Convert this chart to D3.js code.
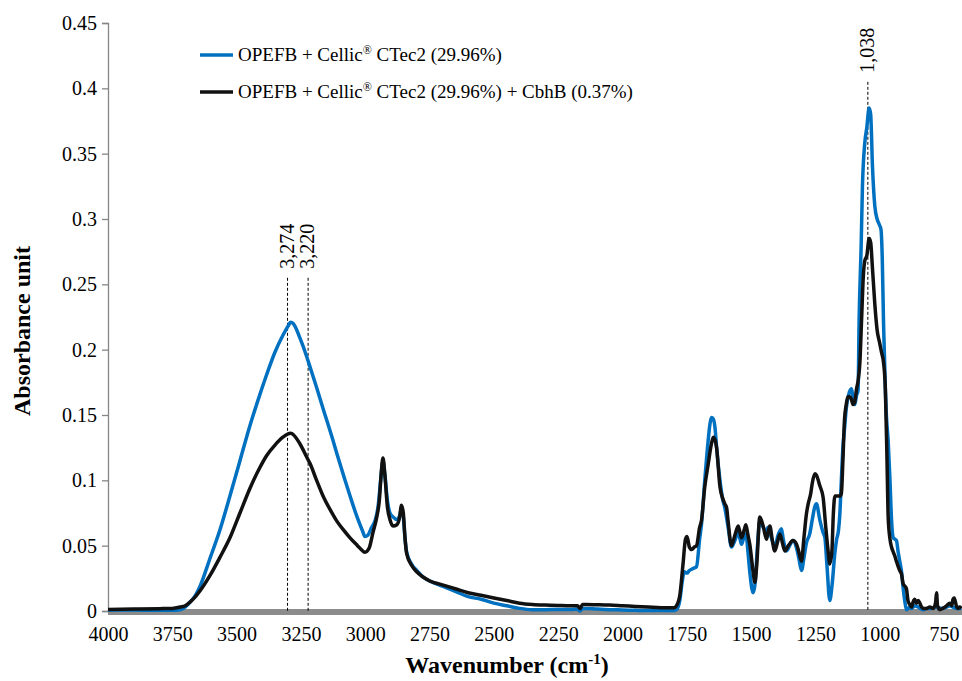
<!DOCTYPE html>
<html>
<head>
<meta charset="utf-8">
<script src="https://cdn.jsdelivr.net/npm/d3@7"></script>
<style>
  body { margin: 0; background: #fff; }
  svg { display: block; }
</style>
</head>
<body>
<div class="canvas"></div>
<script>
// FTIR spectra, absorbance
const blueWn = [4000, 3900, 3800, 3750, 3720, 3700, 3680, 3660, 3640, 3604, 3565, 3526, 3487, 3448, 3409, 3383, 3351, 3320, 3300, 3290, 3280, 3254, 3228, 3215, 3189, 3164, 3126, 3111, 3080, 3059, 3030, 3010, 3001, 2990, 2975, 2962, 2950, 2940, 2931, 2924, 2914, 2904, 2892, 2877, 2866, 2859, 2852, 2845, 2839, 2820, 2800, 2775, 2749, 2700, 2650, 2600, 2550, 2500, 2450, 2400, 2350, 2300, 2250, 2200, 2175, 2165, 2155, 2140, 2100, 2050, 2000, 1950, 1900, 1850, 1800, 1790, 1777, 1768, 1760, 1749, 1740, 1731, 1720, 1712, 1700, 1693, 1680, 1667, 1660, 1654, 1647, 1640, 1634, 1621, 1610, 1602, 1590, 1576, 1563, 1550, 1543, 1537, 1527, 1520, 1512, 1505, 1492, 1485, 1475, 1466, 1453, 1440, 1434, 1427, 1418, 1408, 1395, 1382, 1375, 1362, 1350, 1337, 1323, 1314, 1304, 1295, 1285, 1272, 1262, 1252, 1246, 1233, 1220, 1213, 1205, 1194, 1185, 1174, 1168, 1160, 1155, 1149, 1143, 1136, 1130, 1120, 1110, 1104, 1097, 1090, 1084, 1080, 1072, 1067, 1058, 1050, 1041, 1035, 1028, 1019, 1010, 1002, 995, 990, 985, 978, 974, 967, 960, 954, 947, 941, 935, 928, 922, 915, 909, 902, 896, 889, 883, 876, 864, 850, 831, 818, 800, 780, 760, 740, 728, 715, 700, 682];
const blueAbs = [0.0008, 0.0008, 0.0005, 0.0005, 0.001, 0.003, 0.007, 0.012, 0.020, 0.040, 0.062, 0.088, 0.115, 0.142, 0.166, 0.181, 0.198, 0.211, 0.218, 0.221, 0.220, 0.209, 0.195, 0.187, 0.171, 0.155, 0.131, 0.121, 0.101, 0.088, 0.071, 0.061, 0.057, 0.058, 0.064, 0.069, 0.080, 0.100, 0.115, 0.105, 0.085, 0.075, 0.072, 0.070, 0.073, 0.079, 0.072, 0.055, 0.045, 0.036, 0.031, 0.026, 0.023, 0.019, 0.015, 0.011, 0.009, 0.006, 0.004, 0.002, 0.001, 0.001, 0.0012, 0.0012, 0.0015, 0.000, 0.002, 0.002, 0.0015, 0.001, 0.0008, 0.0005, 0.0003, 0.0003, 0.0003, 0.001, 0.008, 0.022, 0.030, 0.029, 0.031, 0.032, 0.033, 0.034, 0.055, 0.066, 0.100, 0.130, 0.143, 0.148, 0.147, 0.140, 0.125, 0.100, 0.085, 0.079, 0.065, 0.049, 0.054, 0.060, 0.055, 0.051, 0.057, 0.059, 0.045, 0.030, 0.014, 0.020, 0.050, 0.069, 0.064, 0.061, 0.064, 0.060, 0.054, 0.049, 0.058, 0.063, 0.055, 0.046, 0.050, 0.054, 0.048, 0.040, 0.031, 0.040, 0.052, 0.059, 0.070, 0.080, 0.082, 0.070, 0.060, 0.056, 0.035, 0.008, 0.020, 0.045, 0.054, 0.062, 0.074, 0.100, 0.125, 0.141, 0.155, 0.166, 0.170, 0.164, 0.158, 0.165, 0.169, 0.222, 0.280, 0.325, 0.358, 0.370, 0.385, 0.380, 0.340, 0.310, 0.300, 0.296, 0.292, 0.270, 0.220, 0.170, 0.150, 0.130, 0.100, 0.070, 0.056, 0.055, 0.054, 0.045, 0.038, 0.030, 0.018, 0.007, 0.001, 0.002, 0.003, 0.002, 0.004, 0.003, 0.001, 0.002, 0.002, 0.003, 0.002, 0.003, 0.004, 0.003, 0.002, 0.002];

const blackWn = [4000, 3900, 3800, 3750, 3720, 3700, 3680, 3660, 3640, 3604, 3565, 3526, 3487, 3448, 3409, 3383, 3351, 3320, 3290, 3254, 3228, 3215, 3189, 3164, 3126, 3111, 3080, 3059, 3030, 3010, 3001, 2985, 2970, 2955, 2945, 2938, 2931, 2924, 2914, 2904, 2892, 2877, 2866, 2859, 2852, 2845, 2839, 2820, 2800, 2775, 2749, 2700, 2650, 2600, 2550, 2500, 2450, 2400, 2350, 2300, 2250, 2200, 2175, 2165, 2155, 2140, 2100, 2050, 2000, 1950, 1900, 1850, 1800, 1790, 1777, 1765, 1755, 1749, 1740, 1731, 1720, 1712, 1700, 1693, 1680, 1667, 1654, 1647, 1640, 1634, 1621, 1610, 1602, 1595, 1590, 1576, 1563, 1550, 1543, 1537, 1527, 1520, 1512, 1505, 1492, 1485, 1478, 1466, 1453, 1440, 1434, 1427, 1418, 1408, 1398, 1388, 1378, 1369, 1355, 1337, 1323, 1314, 1304, 1295, 1285, 1278, 1268, 1262, 1252, 1246, 1233, 1220, 1210, 1200, 1194, 1186, 1180, 1174, 1162, 1155, 1149, 1143, 1137, 1130, 1124, 1117, 1110, 1104, 1097, 1090, 1084, 1077, 1070, 1064, 1058, 1050, 1041, 1035, 1028, 1019, 1010, 1000, 993, 985, 978, 972, 967, 960, 954, 947, 941, 935, 928, 922, 915, 909, 902, 896, 890, 883, 876, 870, 864, 857, 850, 844, 837, 830, 818, 805, 792, 783, 779, 775, 766, 755, 740, 728, 720, 715, 710, 702, 695, 689, 682];
const blackAbs = [0.0012, 0.0015, 0.0018, 0.002, 0.003, 0.004, 0.007, 0.011, 0.016, 0.027, 0.041, 0.056, 0.075, 0.094, 0.110, 0.119, 0.127, 0.133, 0.136, 0.128, 0.118, 0.113, 0.100, 0.088, 0.074, 0.069, 0.061, 0.056, 0.050, 0.046, 0.045, 0.048, 0.060, 0.072, 0.085, 0.105, 0.117, 0.105, 0.080, 0.070, 0.065, 0.066, 0.072, 0.081, 0.075, 0.055, 0.044, 0.035, 0.030, 0.026, 0.023, 0.020, 0.017, 0.014, 0.012, 0.010, 0.008, 0.006, 0.005, 0.0045, 0.0042, 0.004, 0.004, 0.002, 0.005, 0.005, 0.0048, 0.0045, 0.004, 0.0035, 0.003, 0.0025, 0.0025, 0.004, 0.012, 0.035, 0.055, 0.057, 0.049, 0.047, 0.049, 0.050, 0.064, 0.069, 0.095, 0.112, 0.128, 0.133, 0.131, 0.125, 0.095, 0.086, 0.082, 0.079, 0.070, 0.050, 0.058, 0.065, 0.060, 0.056, 0.062, 0.066, 0.058, 0.051, 0.030, 0.022, 0.035, 0.072, 0.065, 0.055, 0.060, 0.065, 0.055, 0.046, 0.052, 0.059, 0.052, 0.046, 0.050, 0.054, 0.051, 0.045, 0.038, 0.055, 0.074, 0.082, 0.090, 0.098, 0.105, 0.104, 0.096, 0.087, 0.065, 0.045, 0.036, 0.045, 0.075, 0.088, 0.088, 0.088, 0.090, 0.115, 0.146, 0.158, 0.164, 0.164, 0.162, 0.158, 0.160, 0.170, 0.176, 0.190, 0.225, 0.255, 0.268, 0.272, 0.285, 0.282, 0.262, 0.235, 0.215, 0.205, 0.198, 0.190, 0.170, 0.120, 0.072, 0.055, 0.049, 0.045, 0.042, 0.038, 0.034, 0.031, 0.028, 0.021, 0.019, 0.017, 0.008, 0.005, 0.003, 0.007, 0.009, 0.006, 0.008, 0.006, 0.003, 0.002, 0.002, 0.003, 0.002, 0.006, 0.014, 0.004, 0.001, 0.002, 0.004, 0.006, 0.004, 0.009, 0.010, 0.004, 0.002, 0.003, 0.002];

const seriesNames = ['OPEFB + Cellic® CTec2 (29.96%)', 'OPEFB + Cellic® CTec2 (29.96%) + CbhB (0.37%)'];
const seriesColors = ['#0070c0', '#111111'];

const yTicks = [0, 0.05, 0.1, 0.15, 0.2, 0.25, 0.3, 0.35, 0.4, 0.45];
const xTicks = [4000, 3750, 3500, 3250, 3000, 2750, 2500, 2250, 2000, 1750, 1500, 1250, 1000, 750];

// marked peaks: where the dashed line sits, and its label
const peakPos = [3302, 3222, 1046];
const peakLabels = ['3,274', '3,220', '1,038'];
const peakTop = [0.255, 0.255, 0.405];

const FONT = '"Liberation Serif"';
const W = 962, H = 681;

const svg = d3.select('.canvas')
  .append('svg')
  .attr('width', W)
  .attr('height', H);

const x = d3.scaleLinear().domain([4000, 680]).range([108, 962]);
const y = d3.scaleLinear().domain([0, 0.45]).range([611, 23]);

// gray x axis band
svg.append('line')
  .attr('x1', x(4000)).attr('x2', W)
  .attr('y1', y(0) + 1).attr('y2', y(0) + 1)
  .attr('stroke', '#8c8c8c')
  .attr('stroke-width', 6);

// y axis
const yAxis = svg.append('g')
  .attr('transform', `translate(${x(4000)},0)`)
  .call(d3.axisLeft(y).tickValues(yTicks).tickSize(6).tickPadding(5)
    .tickFormat(d => String(+d.toFixed(2))));
yAxis.select('.domain').attr('stroke', '#868686').attr('stroke-width', 1.3);
yAxis.selectAll('.tick line').attr('stroke', '#868686').attr('stroke-width', 1.3);
yAxis.selectAll('.tick text')
  .attr('fill', '#000')
  .style('font-family', FONT)
  .style('font-size', '20px');

// x axis labels only
const xAxis = svg.append('g')
  .attr('transform', `translate(0,${y(0)})`)
  .call(d3.axisBottom(x).tickValues(xTicks).tickSize(0).tickPadding(16)
    .tickFormat(d3.format('d')));
xAxis.select('.domain').remove();
xAxis.selectAll('.tick text')
  .attr('fill', '#000')
  .style('font-family', FONT)
  .style('font-size', '20px');

// dashed peak markers
const peaks = svg.append('g');
peakPos.forEach((p, i) => {
  peaks.append('line')
    .attr('x1', x(p)).attr('x2', x(p))
    .attr('y1', y(peakTop[i])).attr('y2', y(0))
    .attr('stroke', '#000')
    .attr('stroke-width', 1)
    .attr('stroke-dasharray', '3,2');
  peaks.append('text')
    .attr('transform', `translate(${x(p) + 6},${y(peakTop[i]) - 9}) rotate(-90)`)
    .style('font-family', FONT)
    .style('font-size', '20px')
    .attr('fill', '#000')
    .text(peakLabels[i]);
});

// spectra
const line = d3.line()
  .x(d => x(d[0]))
  .y(d => y(d[1]))
  .curve(d3.curveMonotoneX);

const blue = blueWn.map((w, i) => [w, blueAbs[i]]);
const black = blackWn.map((w, i) => [w, blackAbs[i]]);

[blue, black].forEach((s, i) => {
  svg.append('path')
    .datum(s)
    .attr('fill', 'none')
    .attr('stroke', seriesColors[i])
    .attr('stroke-width', 3.5)
    .attr('stroke-linejoin', 'round')
    .attr('d', line);
});

// legend
const legend = svg.append('g');
seriesNames.forEach((name, i) => {
  const ly = 55 + i * 37;
  legend.append('line')
    .attr('x1', 200).attr('x2', 233)
    .attr('y1', ly).attr('y2', ly)
    .attr('stroke', seriesColors[i])
    .attr('stroke-width', 3.5);
  const parts = name.split('®');
  const t = legend.append('text')
    .attr('x', 238).attr('y', ly + 6)
    .style('font-family', FONT)
    .style('font-size', '19px')
    .attr('fill', '#000');
  t.append('tspan').text(parts[0]);
  t.append('tspan').attr('dy', -7).style('font-size', '12px').text('®');
  t.append('tspan').attr('dy', 7).text(parts[1]);
});

// axis titles
svg.append('text')
  .attr('transform', `translate(30,331) rotate(-90)`)
  .attr('text-anchor', 'middle')
  .style('font-family', FONT)
  .style('font-size', '24px')
  .style('font-weight', 'bold')
  .text('Absorbance unit');

const xt = svg.append('text')
  .attr('x', 507).attr('y', 673)
  .attr('text-anchor', 'middle')
  .style('font-family', FONT)
  .style('font-size', '24px')
  .style('font-weight', 'bold');
xt.append('tspan').text('Wavenumber (cm');
xt.append('tspan').attr('dy', -9).style('font-size', '15px').text('-1');
xt.append('tspan').attr('dy', 9).text(')');
</script>
</body>
</html>
